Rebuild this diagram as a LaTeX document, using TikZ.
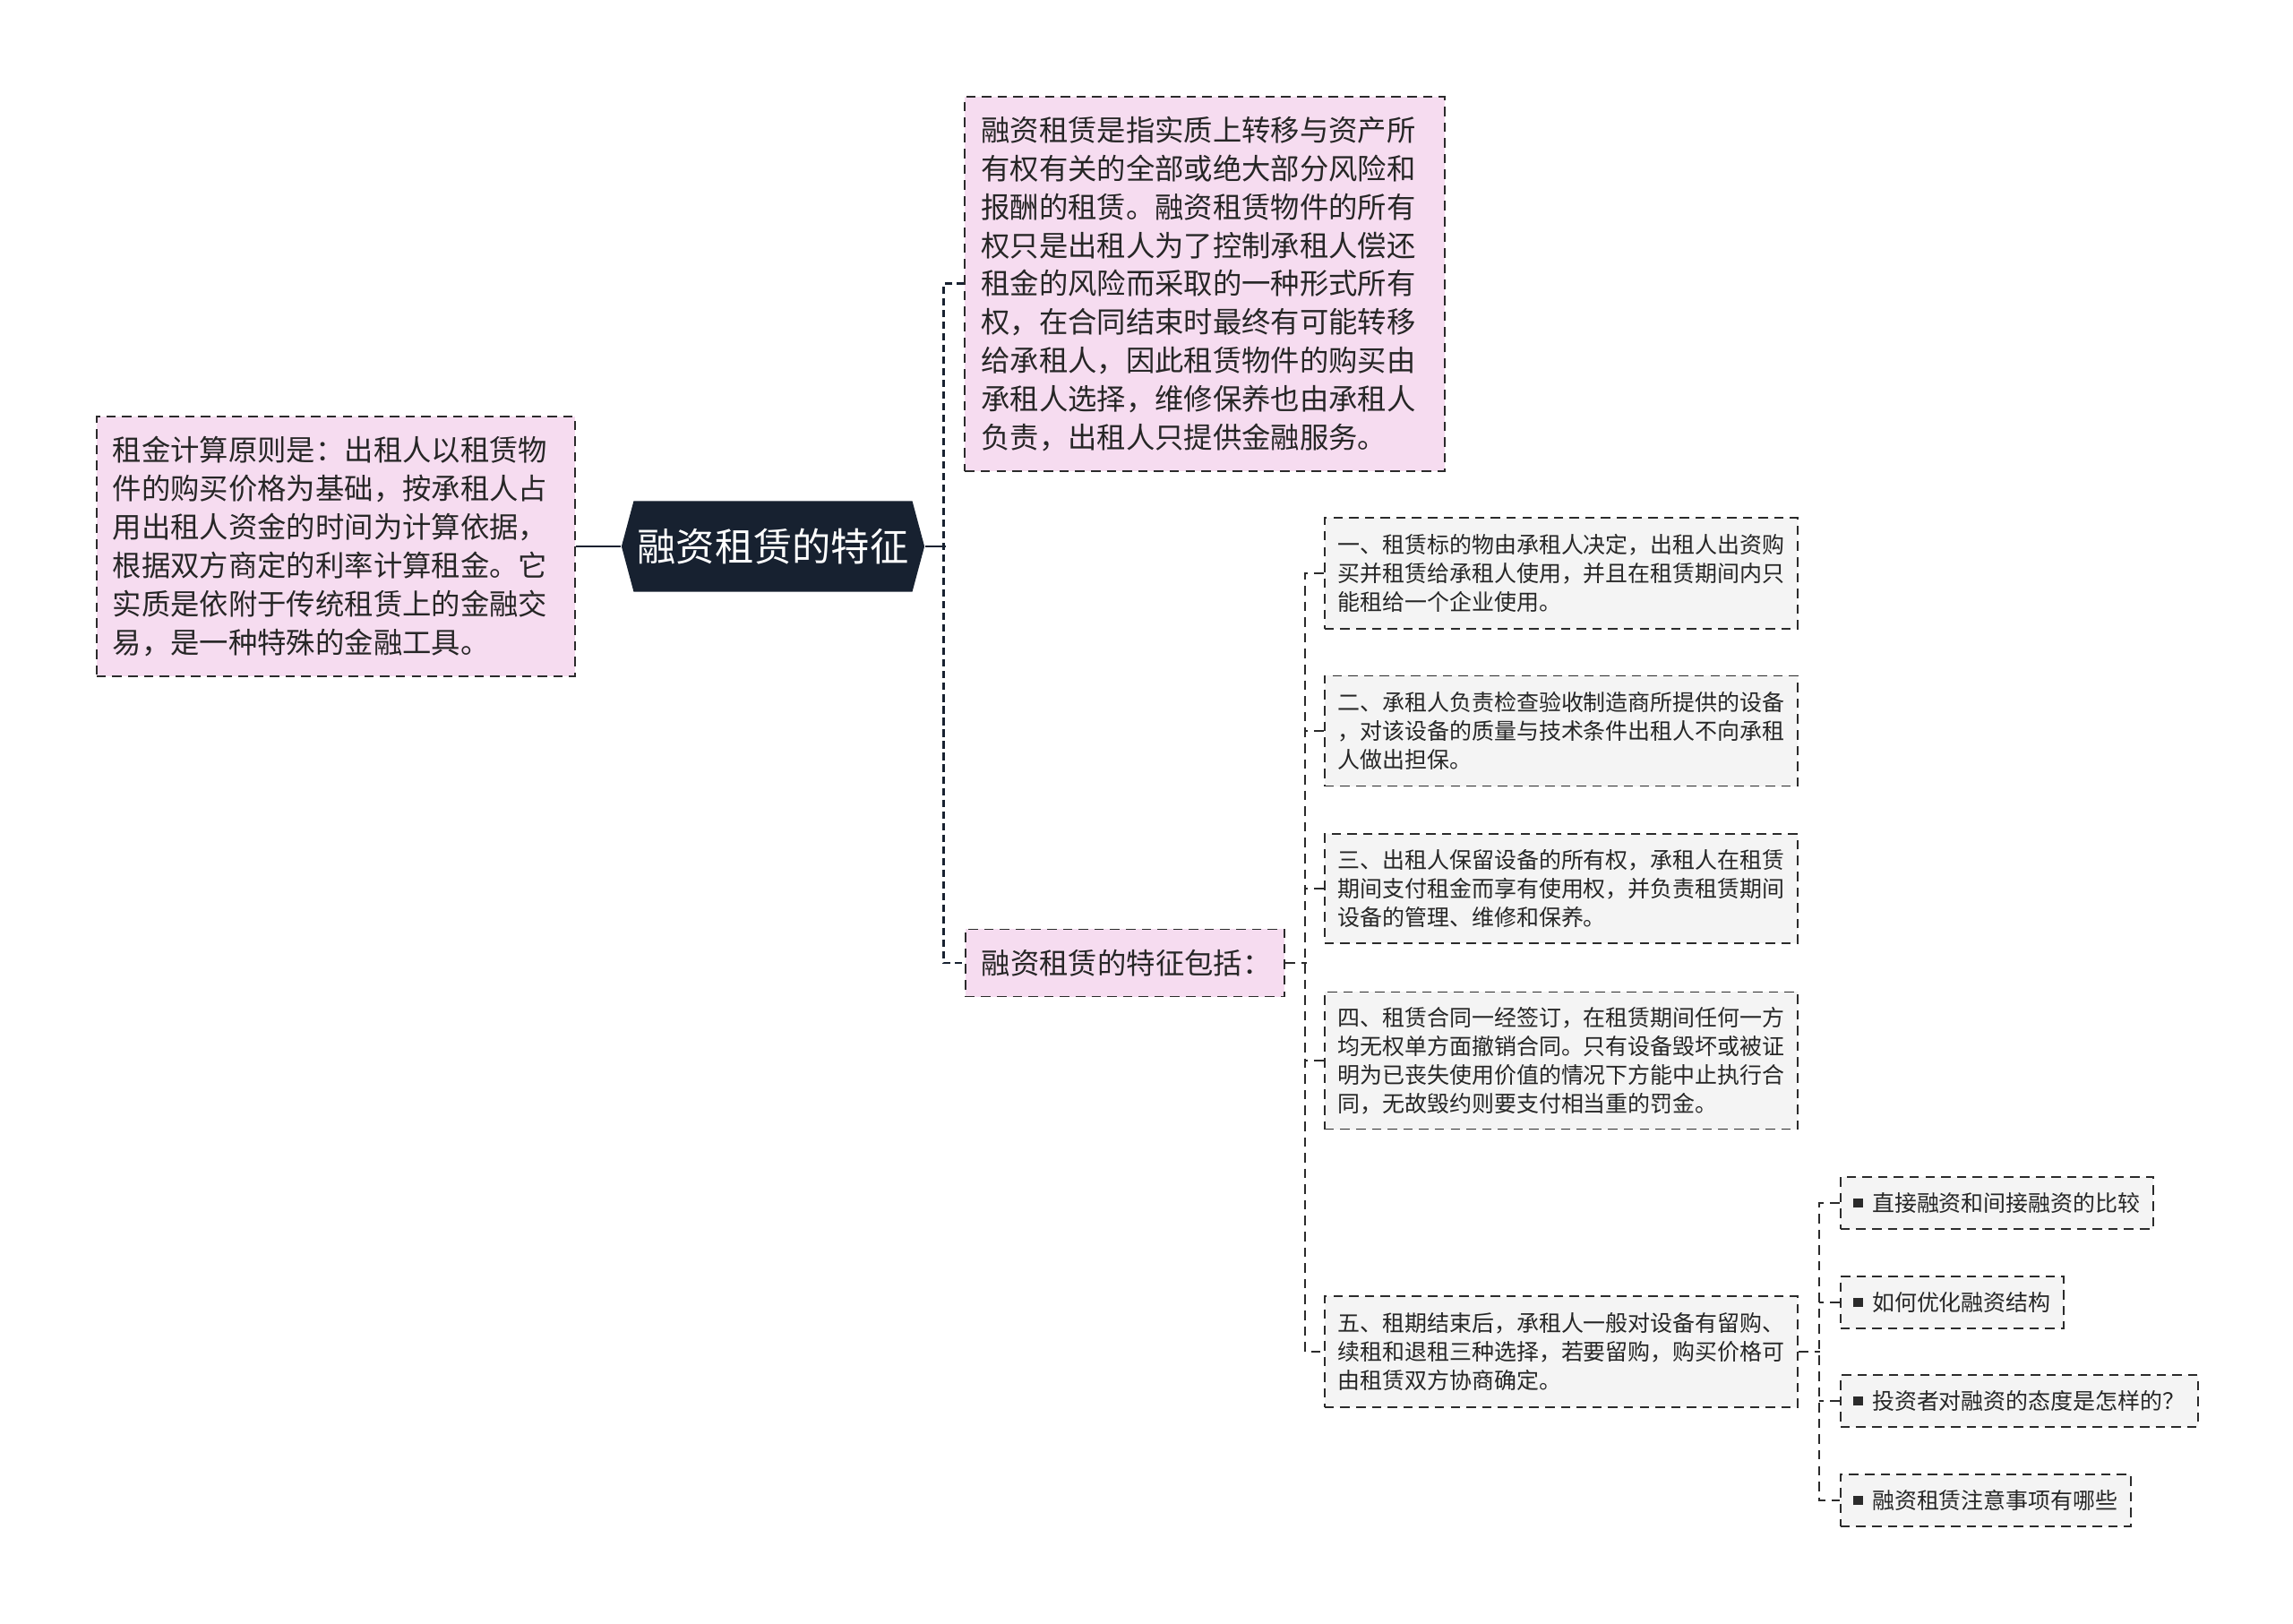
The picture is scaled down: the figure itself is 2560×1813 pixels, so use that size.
\documentclass[tikz,border=0pt]{standalone}
\usepackage{fontspec}
\newfontfamily\cjk{Noto Sans CJK SC}
\usetikzlibrary{shapes.symbols}

\definecolor{rootcol}{HTML}{172130}
\definecolor{pinkfill}{HTML}{F6DCF0}
\definecolor{greyfill}{HTML}{F4F4F4}
\definecolor{edgecol}{HTML}{2B2B2B}
\definecolor{txtcol}{HTML}{262626}

\newcommand{\sqbullet}{{\color{edgecol}\rule[0.3ex]{3pt}{3pt}}\hspace{3pt}}

\tikzset{
    rootbox/.style={signal, signal to=west and east, signal pointer angle=150, fill=rootcol, text=white,
        inner sep=0pt, minimum width=3.38cm, minimum height=1.01cm, font=\cjk\fontsize{12.3}{14}\selectfont},
    pinkbox/.style={draw=edgecol, fill=pinkfill, line width=0.55pt, dash pattern=on 3pt off 2pt,
        align=left, inner xsep=0.18cm, inner ysep=0pt, text=txtcol, font=\cjk\fontsize{9.2}{12.2}\selectfont},
    itembox/.style={draw=edgecol, fill=greyfill, line width=0.5pt, dash pattern=on 3pt off 2pt,
        align=left, inner sep=0pt, text=txtcol, font=\cjk\fontsize{7.1}{9.1}\selectfont},
    tipbox/.style={itembox, inner xsep=4pt, anchor=west, minimum height=0.58cm},
    link1/.style={draw=rootcol, line width=0.85pt, dash pattern=on 2.3pt off 1.4pt},
    link2/.style={draw=edgecol, line width=0.5pt, dash pattern=on 3pt off 2pt},
    stem/.style={draw=rootcol, line width=0.8pt}
}

\begin{document}
\begin{tikzpicture}[x=0.01cm, y=-0.01cm]
        \useasboundingbox (0,0) rectangle (2560,1813);

        % Draw nodes
        \node[rootbox] (root) at (863,610) {融资租赁的特征};
        \node[pinkbox, text width=4.98cm, minimum height=2.89cm] (rule) at (375,610) {租金计算原则是：出租人以租赁物\\件的购买价格为基础，按承租人占\\用出租人资金的时间为计算依据，\\根据双方商定的利率计算租金。它\\实质是依附于传统租赁上的金融交\\易，是一种特殊的金融工具。};
        \node[pinkbox, text width=4.99cm, minimum height=4.18cm] (def) at (1345,317) {融资租赁是指实质上转移与资产所\\有权有关的全部或绝大部分风险和\\报酬的租赁。融资租赁物件的所有\\权只是出租人为了控制承租人偿还\\租金的风险而采取的一种形式所有\\权，在合同结束时最终有可能转移\\给承租人，因此租赁物件的购买由\\承租人选择，维修保养也由承租人\\负责，出租人只提供金融服务。};
        \node[pinkbox, text width=3.20cm, minimum height=0.75cm] (feat) at (1256,1075) {融资租赁的特征包括：};

        \node[itembox, minimum width=5.28cm, minimum height=1.24cm] (item1) at (1743,640) {一、租赁标的物由承租人决定，出租人出资购\\买并租赁给承租人使用，并且在租赁期间内只\\能租给一个企业使用。};
        \node[itembox, minimum width=5.28cm, minimum height=1.23cm] (item2) at (1743,816) {二、承租人负责检查验收制造商所提供的设备\\，对该设备的质量与技术条件出租人不向承租\\人做出担保。};
        \node[itembox, minimum width=5.28cm, minimum height=1.22cm] (item3) at (1743,992) {三、出租人保留设备的所有权，承租人在租赁\\期间支付租金而享有使用权，并负责租赁期间\\设备的管理、维修和保养。};
        \node[itembox, minimum width=5.28cm, minimum height=1.53cm] (item4) at (1743,1184) {四、租赁合同一经签订，在租赁期间任何一方\\均无权单方面撤销合同。只有设备毁坏或被证\\明为已丧失使用价值的情况下方能中止执行合\\同，无故毁约则要支付相当重的罚金。};
        \node[itembox, minimum width=5.28cm, minimum height=1.24cm] (item5) at (1743,1509) {五、租期结束后，承租人一般对设备有留购、\\续租和退租三种选择，若要留购，购买价格可\\由租赁双方协商确定。};

        \node[tipbox] (tip1) at (2054,1343) {\sqbullet 直接融资和间接融资的比较};
        \node[tipbox] (tip2) at (2054,1454) {\sqbullet 如何优化融资结构};
        \node[tipbox] (tip3) at (2054,1564) {\sqbullet 投资者对融资的态度是怎样的？};
        \node[tipbox] (tip4) at (2054,1675) {\sqbullet 融资租赁注意事项有哪些};

        % Draw connections
        \draw[stem] (root.west) -- (rule.east);
        \draw[stem] (root.east) -- ++(23,0);
        \draw[link1] (def.west) -- ++(-23,0) |- (feat.west);

        \draw[link2] (feat.east) -- ++(24,0);
        \draw[link2] (item1.west) -- ++(-21,0) |- (item5.west);
        \foreach \i in {2,3,4}
            \draw[link2] (item\i.west) -- ++(-21,0);

        \draw[link2] (item5.east) -- ++(24,0);
        \draw[link2] (tip1.west) -- ++(-23,0) |- (tip4.west);
        \foreach \i in {2,3}
            \draw[link2] (tip\i.west) -- ++(-23,0);
    \end{tikzpicture}
\end{document}
